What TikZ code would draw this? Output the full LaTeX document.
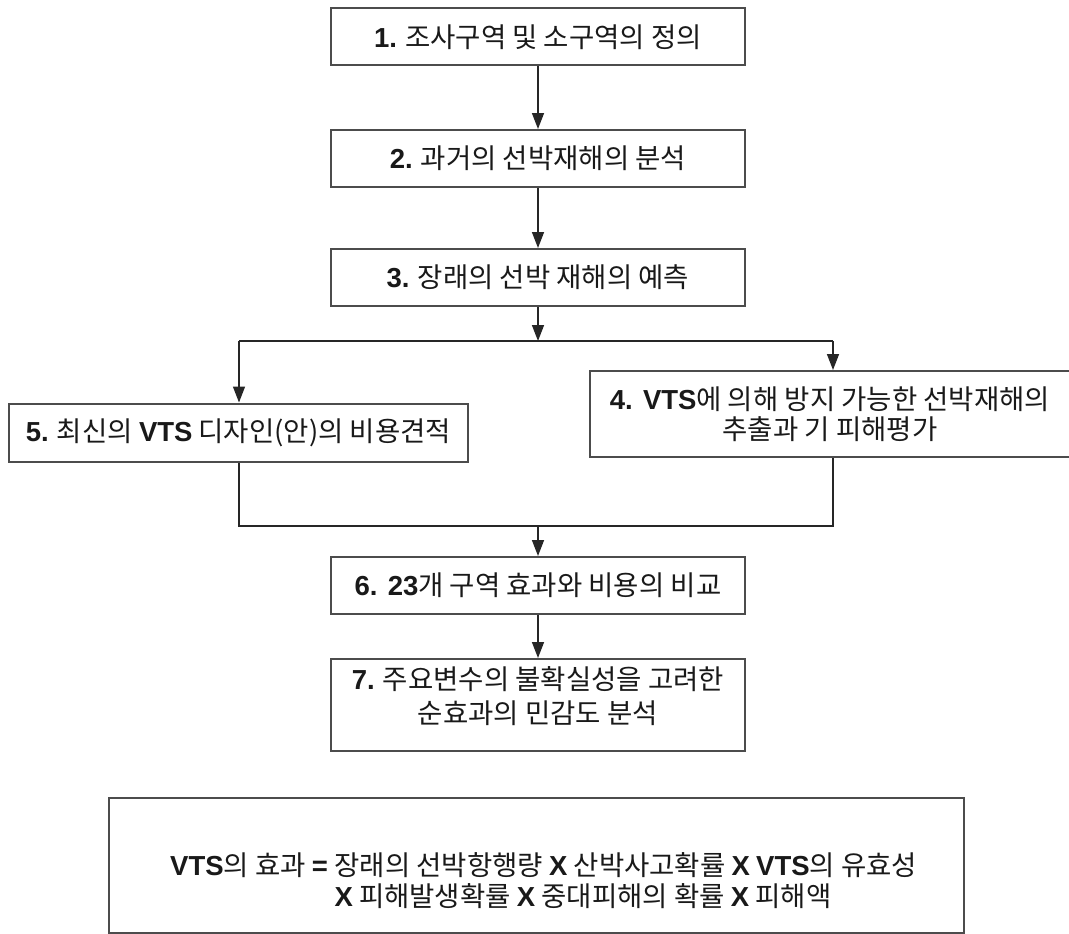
\documentclass[tikz,border=0pt]{standalone}
\usepackage{fontspec}
\setmainfont{Noto Sans CJK KR}
\newfontfamily\lbfont{Liberation Sans}
\newcommand\lb[1]{{\lbfont\bfseries #1}}
\usetikzlibrary{arrows.meta}

\begin{document}
\begin{tikzpicture}[x=1pt,y=-1pt,
  txt/.style={inner sep=0pt, align=center, text=black!90,
    font=\fontsize{27.5}{33}\selectfont},
  stepbox/.style={txt, draw=black!70, line width=2pt, fill=white,
    minimum width=414pt, minimum height=57pt},
  link/.style={line width=1.5pt, draw=black!85},
  arr/.style={link, -{Triangle[width=12pt,length=16pt]}}]
\useasboundingbox (0,0) rectangle (1069,934);

% process steps
\node[stepbox] (s1) at (538,37) {\lb{1.} 조사구역 및 소구역의 정의};
\node[stepbox] (s2) at (538,158.5) {\lb{2.} 과거의 선박재해의 분석};
\node[stepbox] (s3) at (538,277.5) {\lb{3.} 장래의 선박 재해의 예측};
\node[stepbox, minimum width=459pt, minimum height=58pt] (s5) at (238.5,432.5)
  {\lb{5.} 최신의 \lb{VTS} 디자인(안)의 비용견적};
\node[stepbox, minimum width=480pt, minimum height=86pt,
  font=\fontsize{27.5}{30}\selectfont] (s4) at (830,414)
  {\lb{4. VTS}에 의해 방지 가능한 선박재해의\\추출과 기 피해평가};
\node[stepbox] (s6) at (538,585.5) {\lb{6. 23}개 구역 효과와 비용의 비교};
\node[stepbox, minimum height=92pt] (s7) at (538,705) {};
\node[txt, font=\fontsize{27.5}{34}\selectfont] (s7t) at (538,696)
  {\lb{7.} 주요변수의 불확실성을 고려한\\순효과의 민감도 분석};

% formula box, second line hangs under the right-hand side
\node[stepbox, minimum width=855pt, minimum height=135pt] (fx) at (536.5,865.5) {};
\node[txt, anchor=base west] (f1) at (170,875) {\lb{VTS}의 효과 \lb{=} \phantom{}};
\node[txt, anchor=base west] (f1b) at (f1.base east)
  {장래의 선박항행량 \lb{X} 산박사고확률 \lb{X} \lb{VTS}의 유효성};
\node[txt, anchor=base west] (f2) at ([yshift=-31pt]f1b.base west)
  {\lb{X} 피해발생확률 \lb{X} 중대피해의 확률 \lb{X} 피해액};

% main chain
\draw[arr] (s1) -- (s2);
\draw[arr] (s2) -- (s3);

% branch to steps 5 and 4
\coordinate (split) at (538,341);
\coordinate (splitL) at (239,341);
\coordinate (splitR) at (833,341);
\draw[arr] (s3) -- (split);
\draw[link] (splitL) -- (splitR);
\draw[arr] (splitL) -- (splitL |- s5.north);
\draw[arr] (splitR) -- (splitR |- s4.north);

% merge into step 6
\coordinate (joinL) at (239,526);
\coordinate (joinR) at (833,526);
\coordinate (join) at (538,526);
\draw[link] (s5.south -| joinL) -- (joinL) -- (joinR) -- (s4.south -| joinR);
\draw[arr] (join) -- (s6);
\draw[arr] (s6) -- (s7);
\end{tikzpicture}
\end{document}
